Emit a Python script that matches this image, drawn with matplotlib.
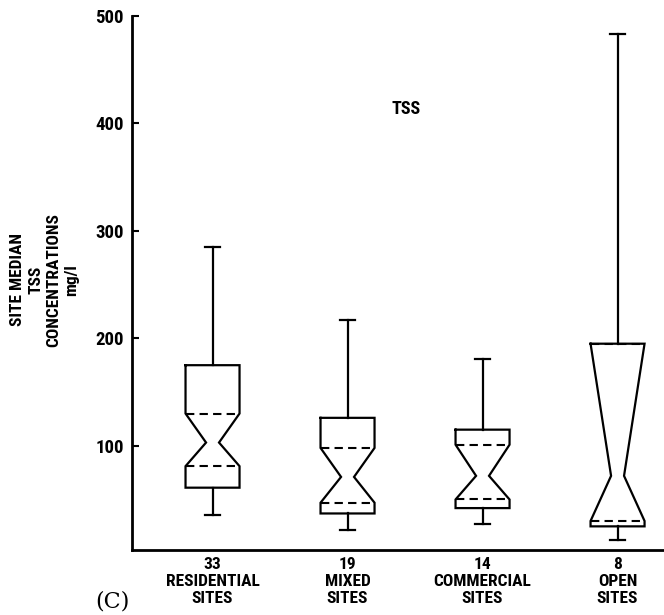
import matplotlib
matplotlib.use("Agg")
import matplotlib.pyplot as plt
import numpy as np

# Site-median TSS concentrations (mg/l) by land use
categories = ["RESIDENTIAL", "MIXED", "COMMERCIAL", "OPEN"]
site_counts = [33, 19, 14, 8]
whisker_high = [285, 217, 181, 483]
upper_quartile = [175, 126, 115, 195]
notch_high = [130, 98, 101, 195]
medians = [103, 71, 72, 72]
notch_low = [81, 47, 50, 30]
lower_quartile = [61, 37, 42, 25]
whisker_low = [36, 22, 27, 12]
y_ticks = [100, 200, 300, 400, 500]

FONT = ["Roboto Condensed", "Liberation Sans Narrow", "Liberation Sans", "DejaVu Sans"]

fig = plt.figure(figsize=(6.64, 6.15), dpi=100)
ax = fig.add_axes([0.1993, 0.1057, 0.8007, 0.8683])

positions = np.arange(1, len(categories) + 1)
half_w = 0.2
waist = 0.048
cap = 0.055
lw = 1.6

for x, hi, q3, nh, med, nl, q1, lo in zip(positions, whisker_high, upper_quartile,
                                           notch_high, medians, notch_low,
                                           lower_quartile, whisker_low):
    xs = [x - half_w, x + half_w, x + half_w, x + waist, x + half_w, x + half_w,
          x - half_w, x - half_w, x - waist, x - half_w, x - half_w]
    ys = [q3, q3, nh, med, nl, q1, q1, nl, med, nh, q3]
    ax.plot(xs, ys, color="black", lw=lw, solid_joinstyle="miter")
    # whiskers with caps
    ax.plot([x, x], [q3, hi], color="black", lw=lw)
    ax.plot([x - cap, x + cap], [hi, hi], color="black", lw=lw)
    ax.plot([x, x], [lo, q1], color="black", lw=lw)
    ax.plot([x - cap, x + cap], [lo, lo], color="black", lw=lw)
    # dashed notch limits
    for level in (nh, nl):
        ax.plot([x - half_w, x + half_w], [level, level], color="black",
                lw=1.5, dashes=(4, 2.5))

ax.set_xlim(0.406, 4.344)
ax.set_ylim(3, 500)

for side in ("top", "right"):
    ax.spines[side].set_visible(False)
for side in ("left", "bottom"):
    ax.spines[side].set_linewidth(2)

ax.set_yticks(y_ticks)
ax.set_yticklabels([str(t) for t in y_ticks], fontfamily=FONT,
                   fontweight="bold", fontsize=13.5)
ax.tick_params(axis="y", direction="in", length=5, width=1.5, pad=6)

ax.set_xticks(positions)
ax.set_xticklabels([f"{n}\n{c}\nSITES" for n, c in zip(site_counts, categories)],
                   fontfamily=FONT, fontweight="bold", fontsize=12.5,
                   linespacing=1.15)
ax.tick_params(axis="x", length=0, pad=5)

ax.text(2.43, 413, "TSS", ha="center", va="center", fontfamily=FONT,
        fontweight="bold", fontsize=13)

fig.text(45 / 664, 0.545, "SITE MEDIAN\nTSS\nCONCENTRATIONS\nmg/l",
         rotation=90, ha="center", va="center", multialignment="center",
         fontfamily=FONT, fontweight="bold", fontsize=12.5, linespacing=1.25)

fig.text(95 / 664, 0.004, "(C)", ha="left", va="bottom",
         fontfamily="DejaVu Serif", fontsize=16)

fig.savefig("out.png", dpi=100)
